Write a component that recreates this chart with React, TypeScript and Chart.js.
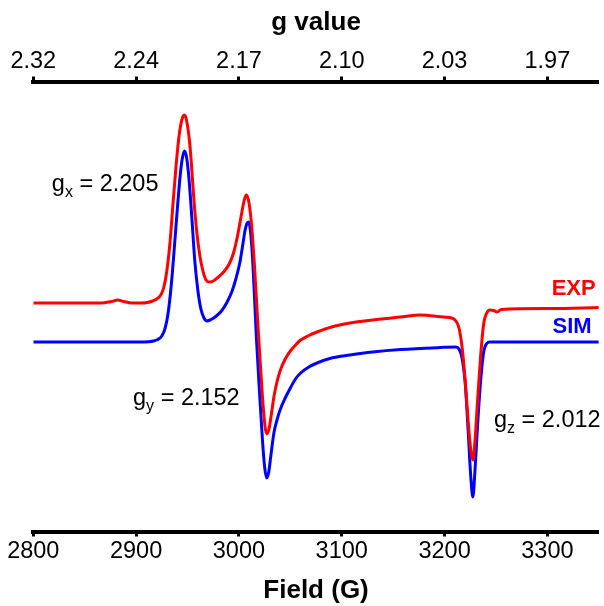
import React, { useEffect, useRef } from 'react';
import { Chart, registerables } from 'chart.js';

Chart.register(...registerables);

const FONT = '"Liberation Sans", Arial, Helvetica, sans-serif';

// Magnetic field axis (G) and the matching g-value labels on the top axis
const fieldTicks = [2800, 2900, 3000, 3100, 3200, 3300];
const gTickLabels = ['2.32', '2.24', '2.17', '2.10', '2.03', '1.97'];
const FIELD_MIN = 2800;
const FIELD_MAX = 3350;

// Experimental spectrum (derivative intensity, a.u., offset above the simulation)
const expField = [
  2800, 2865, 2876, 2882, 2888, 2896, 2905, 2911, 2916, 2920, 2924, 2927, 2930, 2933, 2936,
  2939, 2942, 2945, 2947, 2949, 2952, 2954, 2956, 2959, 2962, 2965, 2968, 2971, 2975, 2980,
  2986, 2991, 2995, 2999, 3002, 3005, 3007, 3009, 3011, 3013, 3015, 3018, 3021, 3024, 3027,
  3029, 3031, 3034, 3037, 3040, 3045, 3050, 3055, 3060, 3068, 3076, 3090, 3108, 3130, 3157,
  3176, 3199, 3207, 3211, 3214, 3217, 3220, 3223, 3225.5, 3227.5, 3229.5, 3232, 3235, 3238, 3241,
  3244, 3248, 3251, 3255, 3303, 3350,
];
const expIntensity = [
  39, 39, 40.5, 42, 40.5, 39, 39, 39.5, 41, 43, 47, 55, 72, 100, 140,
  178, 208, 224, 227, 222, 200, 175, 145, 110, 86, 71, 62, 60, 61, 65,
  71, 79, 90, 108, 125, 141, 147, 143, 130, 108, 78, 25, -25, -70, -92,
  -88, -76, -55, -40, -29, -17, -9, -3, 2, 6.5, 10, 15, 19, 22, 25,
  27, 25, 24, 21, 14, -5, -38, -80, -108, -118, -100, -60, -15, 18, 29,
  32, 31.5, 30, 32.5, 33.5, 34.5,
];

// Simulated spectrum (derivative intensity, a.u.)
const simField = [
  2800, 2905, 2912, 2917, 2921, 2925, 2928, 2931, 2934, 2937, 2940, 2943, 2945, 2947, 2949,
  2951, 2953, 2955, 2957, 2960, 2963, 2966, 2969, 2973, 2978, 2983, 2988, 2993, 2997, 3001,
  3004, 3006, 3008, 3009.5, 3011, 3013, 3015, 3017, 3020, 3023, 3025, 3027, 3029, 3031, 3034,
  3037, 3040, 3045, 3050, 3055, 3060, 3068, 3076, 3090, 3108, 3130, 3157, 3196, 3211, 3214,
  3217, 3220, 3223, 3225.5, 3227.5, 3229.5, 3232, 3235, 3238, 3241, 3244, 3350,
];
const simIntensity = [
  0, 0, 0.3, 1, 2.5, 6, 13, 28, 55, 92, 132, 168, 184, 191, 185,
  168, 142, 112, 82, 52, 33, 24, 21, 22.5, 26, 31, 39, 50, 63, 80,
  99, 112, 119, 120, 113, 88, 48, 4, -50, -100, -125, -136, -130, -114, -91,
  -78, -68, -56, -46, -37, -31, -25, -21, -16, -13, -10, -7.5, -5.5, -5, -7,
  -16, -40, -90, -135, -155, -130, -85, -40, -10, -1.5, 0, 0,
];

// Principal g-values written beside the spectrum
const gLabels = [
  { main: 'g', sub: 'x', rest: ' = 2.205', field: 2818, intensity: 151 },
  { main: 'g', sub: 'y', rest: ' = 2.152', field: 2897, intensity: -63 },
  { main: 'g', sub: 'z', rest: ' = 2.012', field: 3248, intensity: -85 },
];
const seriesTags = [
  { text: 'EXP', color: '#ff0000', field: 3347, intensity: 47 },
  { text: 'SIM', color: '#0000ff', field: 3343, intensity: 9 },
];

const toPoints = (xs: number[], ys: number[]) => xs.map((x, i) => ({ x, y: ys[i] }));

const textPlugin = {
  id: 'spectrumText',
  afterDatasetsDraw(chart: any) {
    const { ctx, scales } = chart;
    const xs = scales.x;
    const ys = scales.y;
    ctx.save();
    ctx.fillStyle = '#000';
    ctx.textBaseline = 'alphabetic';
    ctx.textAlign = 'left';
    for (const g of gLabels) {
      const x = xs.getPixelForValue(g.field);
      const y = ys.getPixelForValue(g.intensity);
      ctx.font = `23.5px ${FONT}`;
      ctx.fillText(g.main, x, y);
      let cx = x + ctx.measureText(g.main).width;
      ctx.font = `16px ${FONT}`;
      ctx.fillText(g.sub, cx, y + 6);
      cx += ctx.measureText(g.sub).width;
      ctx.font = `23.5px ${FONT}`;
      ctx.fillText(g.rest, cx, y);
    }
    ctx.textAlign = 'right';
    ctx.font = `bold 22px ${FONT}`;
    for (const t of seriesTags) {
      ctx.fillStyle = t.color;
      ctx.fillText(t.text, xs.getPixelForValue(t.field), ys.getPixelForValue(t.intensity));
    }
    ctx.restore();
  },
};

const fixTicks = (scale: any) => {
  scale.ticks = fieldTicks.map((v) => ({ value: v }));
};

export default function App() {
  const canvasRef = useRef<HTMLCanvasElement | null>(null);

  useEffect(() => {
    const canvas = canvasRef.current;
    if (!canvas) return;
    const axisTicks = { font: { size: 23.5, family: FONT }, color: '#000', padding: 1, maxRotation: 0, autoSkip: false };
    const axisGrid = { drawOnChartArea: false, drawTicks: true, tickLength: 5, tickWidth: 3, tickColor: '#000' };
    const axisBorder = { display: true, width: 4, color: '#000' };

    const chart = new Chart(canvas, {
      type: 'line',
      data: {
        datasets: [
          {
            label: 'EXP',
            data: toPoints(expField, expIntensity),
            borderColor: '#ff0000',
            borderWidth: 3,
            pointRadius: 0,
            cubicInterpolationMode: 'monotone',
            order: 0,
          },
          {
            label: 'SIM',
            data: toPoints(simField, simIntensity),
            borderColor: '#0000ff',
            borderWidth: 3,
            pointRadius: 0,
            cubicInterpolationMode: 'monotone',
            order: 1,
          },
        ],
      },
      options: {
        responsive: false,
        animation: false,
        devicePixelRatio: 1,
        parsing: false,
        layout: { padding: { left: 33.3, right: 5.2, top: 0, bottom: 0 } },
        plugins: { legend: { display: false }, tooltip: { enabled: false } },
        scales: {
          x: {
            type: 'linear',
            position: 'bottom',
            min: FIELD_MIN,
            max: FIELD_MAX,
            afterBuildTicks: fixTicks,
            ticks: { ...axisTicks, callback: (v: any) => String(v) },
            grid: axisGrid,
            border: axisBorder,
            title: {
              display: true,
              text: 'Field (G)',
              color: '#000',
              font: { size: 26, weight: 'bold', family: FONT },
              padding: { top: 0, bottom: 0 },
            },
            afterFit: (s: any) => {
              s.height = 74.5;
              s.paddingLeft = 0;
              s.paddingRight = 0;
            },
          },
          x2: {
            type: 'linear',
            position: 'top',
            min: FIELD_MIN,
            max: FIELD_MAX,
            afterBuildTicks: fixTicks,
            ticks: { ...axisTicks, callback: (v: any) => gTickLabels[fieldTicks.indexOf(Number(v))] ?? '' },
            grid: axisGrid,
            border: axisBorder,
            title: {
              display: true,
              text: 'g value',
              color: '#000',
              font: { size: 26, weight: 'bold', family: FONT },
              padding: { top: 7, bottom: 0 },
            },
            afterFit: (s: any) => {
              s.height = 81.5;
              s.paddingLeft = 0;
              s.paddingRight = 0;
            },
          },
          y: {
            type: 'linear',
            display: false,
            min: -189.5,
            max: 260.5,
          },
        },
      } as any,
      plugins: [textPlugin],
    });
    return () => chart.destroy();
  }, []);

  return (
    <div style={{ position: 'fixed', left: 0, top: 0, width: 604, height: 606, background: '#fff' }}>
      <canvas ref={canvasRef} width={604} height={606} style={{ display: 'block' }} />
    </div>
  );
}
